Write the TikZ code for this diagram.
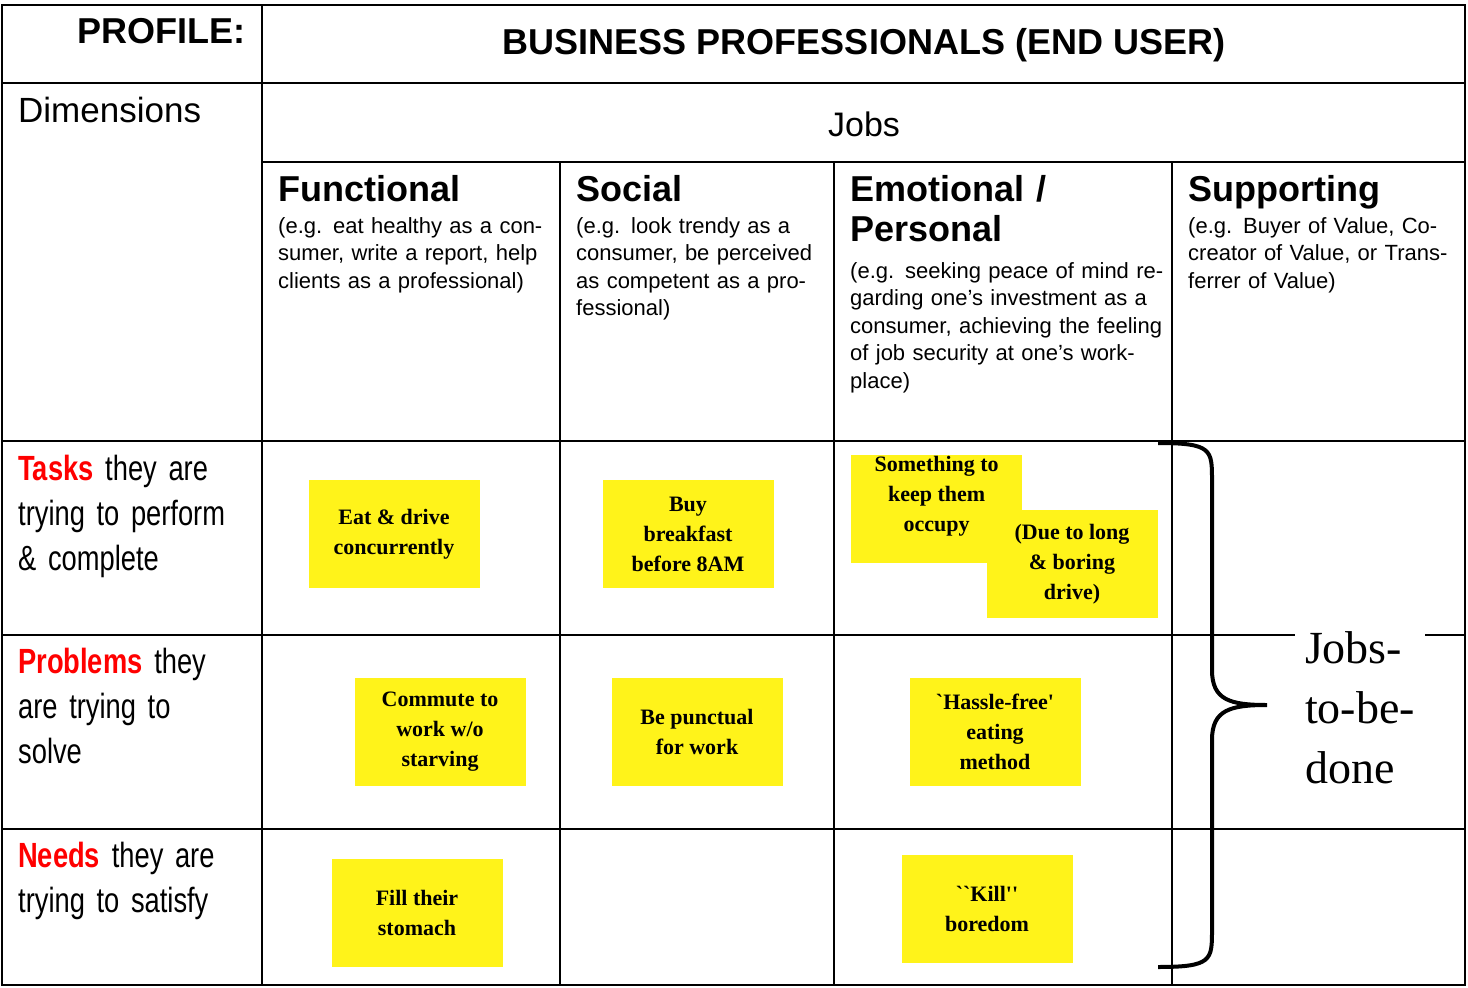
\documentclass[tikz,border=0pt]{standalone}
\usepackage{fontspec}
\setmainfont{Liberation Sans}
\newfontfamily\notefont{Liberation Serif}
\newfontfamily\narrowfont[FakeStretch=0.78]{Liberation Sans}

\tikzset{
  grid/.style={line width=1.6pt},
  note/.style={fill=yellow!90!white, minimum width=171pt, minimum height=108pt,
    inner sep=0pt, align=center, font=\notefont\bfseries\fontsize{22}{30}\selectfont,
    append after command={[fill=yellow!65!olive]
      (\tikzlastnode.south east) ++(-18,0) -- ++(18,18) -- ++(-6,-12) -- cycle}},
  head/.style={anchor=north west, inner sep=0pt, align=left, text width=280pt,
    font=\bfseries\fontsize{36}{40}\selectfont},
  example/.style={anchor=north west, inner sep=0pt, align=left, text width=285pt,
    font=\fontsize{22}{27.5}\selectfont},
  rowlabel/.style={anchor=north west, inner sep=0pt, align=left, text width=240pt,
    font=\narrowfont\fontsize{35}{45}\selectfont}
}

\begin{document}
\begin{tikzpicture}[x=1pt,y=-1pt]
  \useasboundingbox (0,0) rectangle (1468,988);

  % table lines
  \draw[grid] (2,5) rectangle (1465,985);
  \draw[grid] (262,5) -- (262,985);
  \draw[grid] (2,83) -- (1465,83);
  \draw[grid] (262,162) -- (1465,162);
  \foreach \xx in {560,834,1172} \draw[grid] (\xx,162) -- (\xx,985);
  \foreach \yy in {441,635,829} \draw[grid] (2,\yy) -- (1465,\yy);

  % headings
  \node[anchor=north east, inner sep=0pt, font=\bfseries\fontsize{36}{40}\selectfont] (profile) at (246,18) {PROFILE:};
  \node[font=\bfseries\fontsize{36}{40}\selectfont] (title) at (864,45) {BUSINESS PROFESSIONALS (END USER)};
  \node[anchor=north west, inner sep=0pt, font=\fontsize{35}{40}\selectfont] (dims) at (18,97) {Dimensions};
  \node[font=\fontsize{34}{40}\selectfont] (jobs) at (864,124) {Jobs};

  \node[head] (func) at (278,175) {Functional};
  \node[example, text width=270pt] (funcex) at (278,217) {(e.g. eat healthy as a consumer, write a report, help clients as a professional)};
  \node[head] (social) at (576,175) {Social};
  \node[example, text width=255pt] (socialex) at (576,217) {(e.g. look trendy as a consumer, be perceived as competent as a professional)};
  \node[head] (emo) at (850,175) {Emotional /\\Personal};
  \node[example, text width=315pt] (emoex) at (850,262) {(e.g. seeking peace of mind regarding one's investment as a consumer, achieving the feeling of job security at one's workplace)};
  \node[head] (supp) at (1188,175) {Supporting};
  \node[example, text width=265pt] (suppex) at (1188,217) {(e.g. Buyer of Value, Co-creator of Value, or Transferrer of Value)};

  % row labels
  \node[rowlabel] (tasks) at (18,455) {\textcolor{red}{\bfseries Tasks} they are\\trying to perform\\\& complete};
  \node[rowlabel] (problems) at (18,648) {\textcolor{red}{\bfseries Problems} they\\are trying to\\solve};
  \node[rowlabel] (needs) at (18,842) {\textcolor{red}{\bfseries Needs} they are\\trying to satisfy};

  % sticky notes
  \node[note] (eat) at (394,534) {Eat \& drive\\concurrently};
  \node[note] (buy) at (688,534) {Buy\\breakfast\\before 8AM};
  \node[note, anchor=north west] (occupy) at (851,455) {Something to\\keep them\\occupy\\[0pt]};
  \node[note] (drive) at (1072,564) {(Due to long\\\& boring\\drive)};
  \node[note] (commute) at (440,732) {Commute to\\work w/o\\starving};
  \node[note] (punctual) at (697,732) {Be punctual\\for work};
  \node[note] (hassle) at (995,732) {`Hassle-free'\\eating\\method};
  \node[note] (fill) at (417,913) {Fill their\\stomach};
  \node[note] (kill) at (987,909) {``Kill''\\boredom};

  % brace
  \draw[line width=4pt] (1158,443) .. controls (1212,443) and (1212,450) .. (1212,480)
    -- (1212,670) .. controls (1212,700) and (1230,705) .. (1267,705)
    .. controls (1230,705) and (1212,710) .. (1212,740)
    -- (1212,930) .. controls (1212,960) and (1212,967) .. (1158,967);

  \node[fill=white, inner sep=10pt, align=left, font=\notefont\fontsize{46}{60}\selectfont] (jtbd) at (1360,708) {Jobs-\\to-be-\\done};
\end{tikzpicture}
\end{document}
